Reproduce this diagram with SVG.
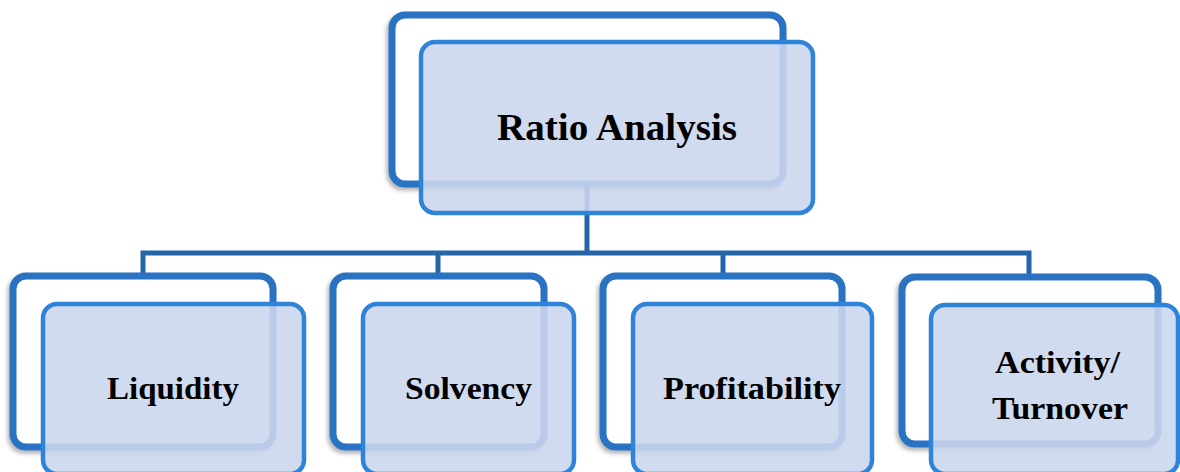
<svg xmlns="http://www.w3.org/2000/svg" width="1180" height="472" viewBox="0 0 1180 472">
  <defs>
    <filter id="shadow" x="-10%" y="-10%" width="120%" height="130%">
      <feDropShadow dx="-2" dy="3" stdDeviation="2" flood-color="#000" flood-opacity="0.3"/>
    </filter>
  </defs>
  <style>
    .back { fill: #ffffff; stroke: #2a72c2; stroke-width: 7; filter: url(#shadow); }
    .front { fill: #cbd7ed; fill-opacity: 0.89; stroke: #2f83d8; stroke-width: 4.5; }
    .wire { fill: none; stroke: #2466a9; stroke-width: 5; }
    .label { font-family: "Liberation Serif", "DejaVu Serif", serif; font-weight: bold; fill: #000; }
    .big { font-size: 37px; }
    .small { font-size: 32px; }
  </style>
  <rect width="1180" height="472" fill="#ffffff"/>

  <!-- tree connectors -->
  <g id="connectors">
    <path class="wire" d="M587 184 V253"/>
    <path class="wire" d="M143 276 V253 H1029 V276"/>
    <path class="wire" d="M438 253 V276"/>
    <path class="wire" d="M723 253 V276"/>
  </g>

  <g id="node-ratio-analysis">
    <rect class="back" x="392" y="15" width="391" height="169" rx="13"/>
    <rect class="front" x="421" y="42" width="392" height="171" rx="14"/>
    <text class="label big" x="497" y="140" textLength="240" lengthAdjust="spacingAndGlyphs">Ratio Analysis</text>
  </g>

  <g id="node-liquidity">
    <rect class="back" x="13" y="276" width="260" height="171" rx="13"/>
    <rect class="front" x="43" y="304" width="261" height="170" rx="14"/>
    <text class="label small" x="107" y="399" textLength="132" lengthAdjust="spacingAndGlyphs">Liquidity</text>
  </g>

  <g id="node-solvency">
    <rect class="back" x="333" y="276" width="211" height="171" rx="13"/>
    <rect class="front" x="363" y="304" width="211" height="170" rx="14"/>
    <text class="label small" x="405" y="399" textLength="127" lengthAdjust="spacingAndGlyphs">Solvency</text>
  </g>

  <g id="node-profitability">
    <rect class="back" x="603" y="276" width="239" height="171" rx="13"/>
    <rect class="front" x="633" y="304" width="239" height="170" rx="14"/>
    <text class="label small" x="663" y="399" textLength="178" lengthAdjust="spacingAndGlyphs">Profitability</text>
  </g>

  <g id="node-activity-turnover">
    <rect class="back" x="902" y="277" width="256" height="167" rx="13"/>
    <rect class="front" x="931" y="305" width="247" height="169" rx="14"/>
    <text class="label small" x="995" y="373" textLength="125" lengthAdjust="spacingAndGlyphs">Activity/</text>
    <text class="label small" x="992" y="419" textLength="136" lengthAdjust="spacingAndGlyphs">Turnover</text>
  </g>
</svg>
